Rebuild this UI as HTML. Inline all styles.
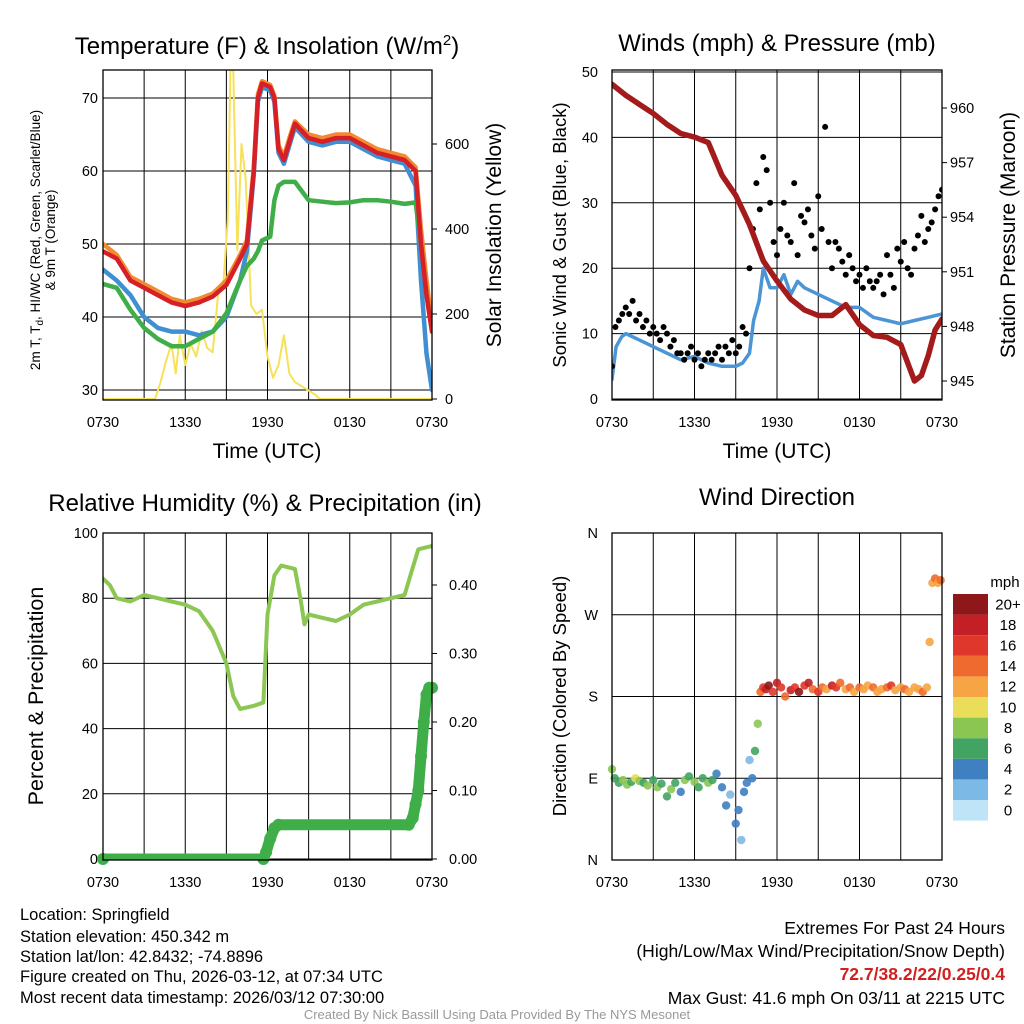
<!DOCTYPE html>
<html><head><meta charset="utf-8">
<style>
html,body{margin:0;padding:0;background:#fff;}
svg{display:block;font-family:"Liberation Sans",Arial,sans-serif;}
</style></head>
<body>
<svg id="c" width="1024" height="1024" viewBox="0 0 1024 1024" xmlns="http://www.w3.org/2000/svg">
<defs>
<clipPath id="cp1"><rect x="103" y="70" width="329" height="330"/></clipPath>
<clipPath id="cp2"><rect x="612" y="70" width="330" height="330"/></clipPath>
<clipPath id="cp3"><rect x="103" y="533" width="329" height="327"/></clipPath>
</defs>
<g id="root"></g>
<text x="267" y="54" text-anchor="middle" font-size="24">Temperature (F) &amp; Insolation (W/m<tspan dy="-9" font-size="15">2</tspan><tspan dy="9">)</tspan></text>
<text x="777" y="51" text-anchor="middle" font-size="24">Winds (mph) &amp; Pressure (mb)</text>
<text x="265" y="511" text-anchor="middle" font-size="24">Relative Humidity (%) &amp; Precipitation (in)</text>
<text x="777" y="505" text-anchor="middle" font-size="24">Wind Direction</text>
<text x="267" y="458" text-anchor="middle" font-size="21">Time (UTC)</text>
<text x="777" y="458" text-anchor="middle" font-size="21">Time (UTC)</text>
<text transform="translate(40,240) rotate(-90)" text-anchor="middle" font-size="13.5">2m T, T<tspan dy="3" font-size="10">d</tspan><tspan dy="-3">, HI/WC (Red, Green, Scarlet/Blue)</tspan></text>
<text transform="translate(55,240) rotate(-90)" text-anchor="middle" font-size="13.5">&amp; 9m T (Orange)</text>
<text transform="translate(501,235) rotate(-90)" text-anchor="middle" font-size="21">Solar Insolation (Yellow)</text>
<text transform="translate(566,235) rotate(-90)" text-anchor="middle" font-size="18.5">Sonic Wind &amp; Gust (Blue, Black)</text>
<text transform="translate(1015,235) rotate(-90)" text-anchor="middle" font-size="21">Station Pressure (Maroon)</text>
<text transform="translate(43,696) rotate(-90)" text-anchor="middle" font-size="21.5">Percent &amp; Precipitation</text>
<text transform="translate(566,696) rotate(-90)" text-anchor="middle" font-size="18.5">Direction (Colored By Speed)</text>
<text x="1005" y="587" text-anchor="middle" font-size="15">mph</text>
<g font-size="16.5">
<text x="20" y="920">Location: Springfield</text>
<text x="20" y="942">Station elevation: 450.342 m</text>
<text x="20" y="962">Station lat/lon: 42.8432; -74.8896</text>
<text x="20" y="982">Figure created on Thu, 2026-03-12, at 07:34 UTC</text>
<text x="20" y="1003">Most recent data timestamp: 2026/03/12 07:30:00</text>
</g>
<g font-size="17.5" text-anchor="end">
<text x="1005" y="934">Extremes For Past 24 Hours</text>
<text x="1005" y="957">(High/Low/Max Wind/Precipitation/Snow Depth)</text>
<text x="1005" y="980" fill="#d21f1f" font-weight="bold">72.7/38.2/22/0.25/0.4</text>
<text x="1005" y="1004">Max Gust: 41.6 mph On 03/11 at 2215 UTC</text>
</g>
<text x="497" y="1019" text-anchor="middle" font-size="13" fill="#999">Created By Nick Bassill Using Data Provided By The NYS Mesonet</text>
</svg>
<script>
// ---- data ----
const xTickLabels = ["0730","1330","1930","0130","0730"];
const tHours = [0,1,2,3,4,5,6,7,8,9,10,10.5,11,11.3,11.6,12.2,12.5,12.8,13.2,13.6,14,15,16,17,18,19,20,21,22,22.8,23.2,23.6,24];
const tempRed = [49,48,45,44,43,42,41.5,42,42.8,44.4,48,50,60,70,72,71.5,70,63,61.5,64,66.5,64.5,64,64.5,64.5,63.5,62.5,62,61.5,60,50,43,38];
const tempOrange = [50,48.5,45.5,44.5,43.5,42.5,42,42.5,43.2,45,48.5,50.5,60.5,70.5,72.3,71.8,70.3,63.5,62,64.5,66.8,65,64.5,65,65,64,63,62.5,62,60.5,52,45,39];
const dewGreen = [44.5,44,41,38.5,37,36,36,37,38,40.5,45,47,48,49,50.5,51,56,58,58.5,58.5,58.5,56,55.8,55.6,55.7,56,56,55.8,55.5,55.7,50,43,38];
const hiBlue = [46.5,45,43,40,38.5,38,38,37.5,38,40,45,49,59.5,69.5,71.5,71,69.5,62.5,61,63.5,66,64,63.5,64,64,63,62,61.5,61,58,45,35,30];
const tempTicks = [30,40,50,60,70];
const sHours = [0,3.8,4.2,4.6,5,5.3,5.6,6,6.4,6.8,7.2,7.6,8,8.4,8.8,9.1,9.3,9.5,9.8,10.1,10.4,10.8,11.2,11.6,12,12.4,12.8,13.2,13.6,14,14.5,15,15.5,15.8,24];
const solar = [0,0,40,90,130,60,150,80,130,100,160,120,110,250,280,420,780,780,350,600,520,220,200,210,100,50,80,150,60,40,30,20,10,0,0];
const solarTicks = [0,200,400,600];
const wHours = [0,0.3,0.7,1,2,3,4,5,6,7,8,9,9.5,10,10.3,10.7,11,11.5,12,12.5,13,13.5,14,14.5,15,16,17,18,19,20,21,22,23,24];
const wind = [3,8,9.5,10,9,8,7,6,6.5,5.5,5,5,5.5,7,12,15,20,17,17,19,16,18,17,16.5,16,15,14,14,12.5,12,11.5,12,12.5,13];
const gusts = [5,11,12,13, 14,13,15,12, 13,11,12,10, 11,10,9,11, 10,8,9,7, 7,6,7,8, 6,7,5,6, 7,6,7,8, 6,8,7,9, 7,8,11,10, 20,26,33,29, 37,35,30,24, 22,26,30,25, 24,33,22,28, 27,29,25,23, 31,26,41.6,24, 20,24,23,21, 19,22,20,18, 19,17,20,18, 17,18,19,16, 22,19,17,23, 21,24,20,19, 23,25,28,24, 26,27,29,31, 32];
const windTicks = [0,10,20,30,40,50];
const pHours = [0,1,2,3,4,5,6,7,8,9,10,11,12,13,14,15,16,17,18,19,20,21,22,22.5,23,23.5,24];
const pressure = [961.3,960.7,960.2,959.7,959.1,958.6,958.4,958.1,956.3,955.2,953.6,951.6,950.5,949.5,948.9,948.6,948.6,949.2,948.1,947.5,947.4,947,945,945.3,946.4,947.8,948.4];
const pressTicks = [945,948,951,954,957,960];
const rHours = [0,0.5,1,2,3,4,5,6,7,8,9,9.5,10,11,11.7,12,12.5,13,14,14.4,14.7,15,16,17,18,19,20,21,22,22.5,23,24];
const rh = [86,84,80,79,81,80,79,78,76,70,60,50,46,47,48,75,87,90,89,80,72,75,74,73,75,78,79,80,81,88,95,96];
const rhTicks = [0,20,40,60,80,100];
const pcpHours = [0,11.7,11.9,12.2,12.5,12.8,22.3,22.6,22.8,23,23.2,23.4,23.6,23.8,24];
const pcp = [0,0,0.01,0.03,0.045,0.05,0.05,0.06,0.08,0.1,0.15,0.2,0.24,0.25,0.25];
const pcpTicks = ["0.00","0.10","0.20","0.30","0.40"];
const dirHours = [0,0.2,0.5,0.8,1.1,1.4,1.7,2,2.3,2.6,3,3.3,3.6,4,4.3,4.6,5,5.3,5.6,6,6.3,6.6,7,7.3,7.6,8,8.3,8.6,9,9.2,9.4,9.6,9.8,10,10.2,10.4,10.6,10.8,11,11.2,11.4,11.7,12,12.3,12.6,13,13.3,13.6,14,14.3,14.6,15,15.3,15.6,16,16.3,16.6,17,17.3,17.6,18,18.3,18.6,19,19.3,19.6,20,20.3,20.6,21,21.3,21.6,22,22.3,22.6,22.9,23.1,23.3,23.5,23.7,23.9];
const dirDeg = [100,90,85,88,83,86,90,87,85,82,88,80,84,70,78,85,75,88,92,86,80,90,85,88,95,80,60,72,40,55,22,75,85,110,90,120,150,185,190,188,192,185,195,190,180,187,190,185,192,195,188,185,190,188,192,190,195,188,190,185,190,188,192,190,185,188,190,192,187,190,188,185,190,188,185,190,240,305,310,305,308,307];
const dirSpd = [8,6,7,9,8,6,10,8,7,9,6,8,7,6,8,7,5,9,7,8,6,7,8,6,5,4,4,3,5,4,3,4,5,3,4,6,8,14,16,18,20,17,19,16,15,18,17,20,16,19,14,16,15,13,18,16,14,12,15,13,14,12,13,15,12,13,14,16,12,13,14,12,13,12,14,13,12,13,14,13,14];
const dirLabels = ["N","E","S","W","N"];
const cbLabels = ["0","2","4","6","8","10","12","14","16","18","20+"];
const cbColors = ["#bfe4f7","#7db9e6","#3f80c0","#42a462","#8bc653","#e9dd5a","#f6a444","#ef6a2e","#e0372c","#c21f26","#8d1719"];

// ---- helpers ----
const NS="http://www.w3.org/2000/svg";
const root=document.getElementById('root');
function el(tag,attrs,parent){const e=document.createElementNS(NS,tag);for(const k in attrs)e.setAttribute(k,attrs[k]);(parent||root).appendChild(e);return e;}
function scaleX(x0,w){return h=>x0+h/24*w;}
function scaleY(y0,y1,v0,v1){return v=>y0+(v-v0)/(v1-v0)*(y1-y0);}
function pts(xs,ys,sx,sy){return xs.map((h,i)=>sx(h).toFixed(1)+","+sy(ys[i]).toFixed(1)).join(" ");}

function frame(x0,y0,w,h,name){
  const g=el('g',{});
  
  
  for(let i=1;i<8;i++){const x=x0+i*w/8;const l=el('line',{x1:x,y1:y0,x2:x,y2:y0+h,stroke:'#000','stroke-width':1},g);
    
    }
  xTickLabels.forEach((t,i)=>{const x=x0+i*w/4;const tx=el('text',{x:x,y:y0+h+27,'text-anchor':'middle','font-size':14.5},g);tx.textContent=t;
    
    });
  return g;
}
function border(x0,y0,w,h,name){const r=el('rect',{x:x0,y:y0,width:w,height:h,fill:'none',stroke:'#000','stroke-width':1.3});
  
  }
function hgrid(y,x0,w,g){const l=el('line',{x1:x0,y1:y,x2:x0+w,y2:y,stroke:'#000','stroke-width':1},g);
  
  }
function label(x,y,t,anchor,g){const tx=el('text',{x:x,y:y+5,'text-anchor':anchor,'font-size':14.5},g);tx.textContent=t;
  
  }
function tick(x1,y,x2,g){const l=el('line',{x1:x1,y1:y,x2:x2,y2:y,stroke:'#000','stroke-width':1},g);
  
  }
function line(xs,ys,sx,sy,color,w,clip,name){const p=el('polyline',{points:pts(xs,ys,sx,sy),fill:'none',stroke:color,'stroke-width':w,'stroke-linejoin':'round','stroke-linecap':'round','clip-path':'url(#'+clip+')'});
  
  }

// ---- panel 1 ----
{const X0=103,Y0=70,W=329,H=330;
 const sx=scaleX(X0,W), sy=scaleY(390,98,30,70), sr=scaleY(399,144,0,600);
 const g=frame(X0,Y0,W,H,'temp');
 tempTicks.forEach(v=>{hgrid(sy(v),X0,W,g);label(X0-5,sy(v),v,'end',g);});
 solarTicks.forEach(v=>{tick(X0+W,sr(v),X0+W+5,g);label(X0+W+13,sr(v),v,'start',g);});
 line(sHours,solar,sx,sr,'#f7e15a',2,'cp1','solar-insolation-line');
 line(tHours,tempOrange,sx,sy,'#f28a30',4.5,'cp1','9m-temp-line');
 line(tHours,hiBlue,sx,sy,'#3f8fd2',4.5,'cp1','heat-index-line');
 line(tHours,dewGreen,sx,sy,'#3fae49',4.5,'cp1','dewpoint-line');
 line(tHours,tempRed,sx,sy,'#d61f26',4.5,'cp1','temperature-line');
 border(X0,Y0,W,H,'temp');}

// ---- panel 2 ----
{const X0=612,Y0=70,W=330,H=330;
 const sx=scaleX(X0,W), sy=scaleY(399,72,0,50), sp=scaleY(381,108,945,960);
 const g=frame(X0,Y0,W,H,'wind');
 windTicks.forEach(v=>{hgrid(sy(v),X0,W,g);label(X0-14,sy(v),v,'end',g);});
 pressTicks.forEach(v=>{tick(X0+W,sp(v),X0+W+5,g);label(X0+W+8,sp(v),v,'start',g);});
 line(wHours,wind,sx,sy,'#4b95d6',3.5,'cp2','sonic-wind-line');
 gusts.forEach((v,i)=>{const c=el('circle',{cx:sx(i*0.25),cy:sy(v),r:3,fill:'#000','clip-path':'url(#cp2)'});
   
   });
 line(pHours,pressure,sx,sp,'#a31b1b',5.5,'cp2','pressure-line');
 border(X0,Y0,W,H,'wind');}

// ---- panel 3 ----
{const X0=103,Y0=533,W=329,H=327;
 const sx=scaleX(X0,W), sy=scaleY(859,533,0,100), sp=scaleY(859,585,0,0.4);
 const g=frame(X0,Y0,W,H,'rh');
 rhTicks.forEach(v=>{hgrid(sy(v),X0,W,g);label(X0-5,sy(v),v,'end',g);});
 pcpTicks.forEach(t=>{const v=parseFloat(t);tick(X0+W,sp(v),X0+W+5,g);label(X0+W+17,sp(v),t,'start',g);});
 line(rHours,rh,sx,sy,'#8cc653',4,'cp3','relative-humidity-line');
 line(pcpHours,pcp,sx,sp,'#3fae49',11,'cp3','precipitation-line');
 pcpHours.forEach((h,i)=>{const c=el('circle',{cx:sx(h),cy:sp(pcp[i]),r:6,fill:'#3fae49'});
   
   });
 border(X0,Y0,W,H,'rh');}

// ---- panel 4 ----
{const X0=612,Y0=533,W=330,H=327;
 const sx=scaleX(X0,W), sy=scaleY(860,533,0,360);
 const g=frame(X0,Y0,W,H,'direction');
 dirLabels.forEach((t,i)=>{const y=sy(i*90);hgrid(y,X0,W,g);label(X0-14,y,t,'end',g);});
 dirHours.forEach((h,i)=>{const bin=Math.min(10,Math.floor(dirSpd[i]/2));
   const c=el('circle',{cx:sx(h),cy:sy(dirDeg[i]),r:4.2,fill:cbColors[bin],opacity:0.9});
   
   });
 border(X0,Y0,W,H,'direction');
 const cb=el('g',{});
 
 
 const bh=20.6, by=594;
 for(let i=0;i<11;i++){const y=by+(10-i)*bh;
   const r=el('rect',{x:953,y:y,width:35,height:bh,fill:cbColors[i]},cb);
   
   
   const t=el('text',{x:1008,y:y+bh/2+5,'text-anchor':'middle','font-size':15},cb);t.textContent=cbLabels[i];
   
   }
}
</script>
</body></html>
